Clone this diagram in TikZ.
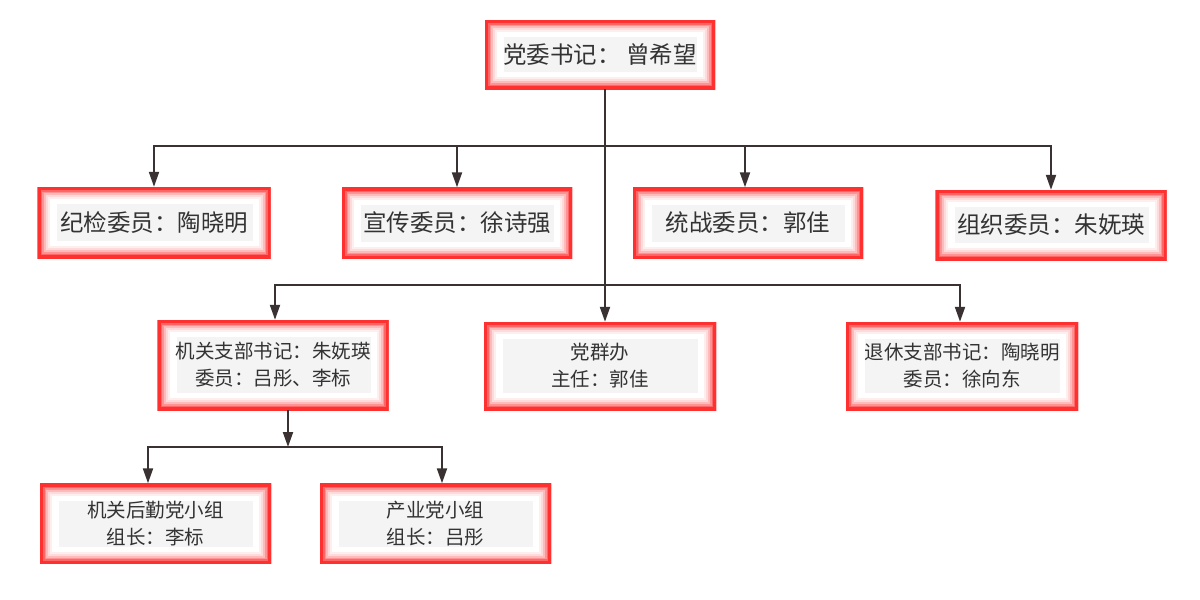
\documentclass[tikz,border=0pt]{standalone}
\usepackage{fontspec}
\setmainfont{Noto Sans CJK SC}
\usetikzlibrary{arrows.meta}
\definecolor{mred}{RGB}{255,48,48}
\definecolor{txt}{RGB}{51,51,51}
\definecolor{graybg}{RGB}{244,244,244}
\definecolor{lnk}{RGB}{58,50,50}
\tikzset{
  obox/.style={inner sep=0pt, fill=white, text=txt, align=center,
    path picture={
      \foreach \w/\c in {24/mred!8, 20/mred!18, 16/mred!33, 12/mred!52, 9/mred!74, 6/mred} {
        \draw[line width=\w pt, \c] (path picture bounding box.south west) rectangle (path picture bounding box.north east);
      }
      \fill[graybg] ([xshift=19pt,yshift=17pt]path picture bounding box.south west) rectangle ([xshift=-18pt,yshift=-17pt]path picture bounding box.north east);
    }},
  bigtxt/.style={font=\fontsize{23.5}{27}\selectfont},
  smalltxt/.style={font=\fontsize{19.5}{27}\selectfont},
  conn/.style={draw=lnk, line width=2pt},
  arr/.style={conn, -{Triangle[length=15pt,width=10pt]}}
}
\begin{document}
\begin{tikzpicture}[x=1pt,y=-1pt]
\useasboundingbox[fill=white] (0,0) rectangle (1200,600);
% top
\node[obox,bigtxt,minimum width=230pt,minimum height=69pt] (top) at (600,54.5) {党委书记： 曾希望};
% row 2
\node[obox,bigtxt,minimum width=233pt,minimum height=71pt] (r2a) at (154,222.5) {纪检委员：陶晓明};
\node[obox,bigtxt,minimum width=230pt,minimum height=71pt] (r2b) at (457,223) {宣传委员：徐诗强};
\node[obox,bigtxt,minimum width=230pt,minimum height=71pt] (r2c) at (748,223) {统战委员：郭佳};
\node[obox,bigtxt,minimum width=231pt,minimum height=70pt] (r2d) at (1051,225) {组织委员：朱妩瑛};
% row 3
\node[obox,smalltxt,minimum width=231pt,minimum height=90pt] (r3a) at (273,365) {机关支部书记：朱妩瑛\\委员：吕彤、李标};
\node[obox,smalltxt,minimum width=232pt,minimum height=88pt] (r3b) at (600,366) {党群办\\主任：郭佳};
\node[obox,smalltxt,minimum width=232pt,minimum height=88pt] (r3c) at (962,366) {退休支部书记：陶晓明\\委员：徐向东};
% row 4
\node[obox,smalltxt,minimum width=231pt,minimum height=80pt] (r4a) at (155.5,523.5) {机关后勤党小组\\组长：李标};
\node[obox,smalltxt,minimum width=231pt,minimum height=80pt] (r4b) at (435.5,523.5) {产业党小组\\组长：吕彤};
% connectors
\coordinate (t0) at ([xshift=5pt]top.south);
\coordinate (b1) at (605,146);
\coordinate (b2) at (605,285);
\coordinate (b3) at (288,447);
\draw[arr] (t0) -- (t0 |- r3b.north);
\draw[arr] (b1) -| (r2a.north);
\draw[arr] (b1) -| (r2b.north);
\draw[arr] (b1) -| ([xshift=-3pt]r2c.north);
\draw[arr] (b1) -| (r2d.north);
\draw[arr] (b2) -| ([xshift=2pt]r3a.north);
\draw[arr] (b2) -| ([xshift=-2pt]r3c.north);
\draw[arr] (r3a.south -| b3) -- (b3);
\draw[arr] (b3) -| ([xshift=-7.5pt]r4a.north);
\draw[arr] (b3) -| ([xshift=6.5pt]r4b.north);
\end{tikzpicture}
\end{document}
